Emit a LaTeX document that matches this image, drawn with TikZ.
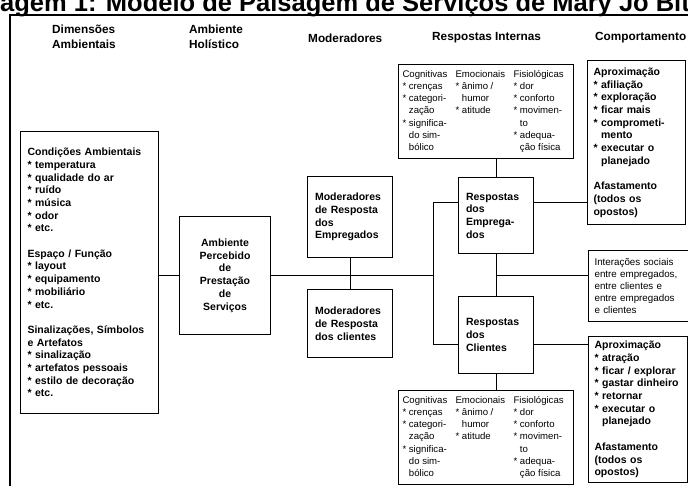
\documentclass[tikz,border=0pt]{standalone}
\usepackage{fontspec}
\setmainfont{Liberation Sans}
\usetikzlibrary{positioning}

% asterisco de item e recuo de continuacao
\newcommand{\ax}{{*}\ }
\newcommand{\rc}{\hphantom{*}\ }

% as tres colunas de respostas internas (repetidas em cima e em baixo)
\newcommand{\respint}{%
\begin{tabular}{@{}p{53pt}@{}p{58pt}@{}p{56pt}@{}}
Cognitivas & Emocionais & Fisiológicas\\
\ax crenças & \ax ânimo / & \ax dor\\
\ax categori- & \rc humor & \ax conforto\\
\rc zação & \ax atitude & \ax movimen-\\
\ax significa- & & \rc to\\
\rc do sim- & & \ax adequa-\\
\rc bólico & & \rc ção física
\end{tabular}}

\tikzset{
  caixa/.style={draw, line width=1.1pt, anchor=north west, inner sep=0pt},
  negrito/.style={font=\fontsize{10.5}{12.7}\selectfont\bfseries},
  fino/.style={font=\fontsize{9.6}{12.2}\selectfont},
  titulo/.style={font=\fontsize{11.8}{14.5}\selectfont\bfseries, align=left, anchor=west, inner sep=0pt},
  liga/.style={line width=1pt}
}

\begin{document}
\begin{tikzpicture}[x=1pt,y=-1pt]
    \clip (0,0) rectangle (688,486);
    \fill[white] (0,0) rectangle (688,486);

    % legenda cortada no topo
    \node[anchor=base west, inner sep=0pt, font=\fontsize{25.5}{25.5}\selectfont\bfseries] (legenda) at (0,12) {agem 1: Modelo de Paisagem de Serviços de Mary Jo Bitner};

    % moldura
    \draw[line width=2pt] (10,495) |- (700,15);

    % cabecalhos
    \node[titulo] (hdim) at (52,37) {Dimensões\\Ambientais};
    \node[titulo] (hamb) at (189,37) {Ambiente\\Holístico};
    \node[titulo] (hmod) at (308,38) {Moderadores};
    \node[titulo] (hresp) at (432,38) {Respostas Internas};
    \node[titulo] (hcomp) at (595,38) {Comportamento};

    % dimensoes ambientais
    \node[caixa, negrito, minimum width=138, minimum height=282, text width=124, align=left] (dim) at (20,131)
        {Condições Ambientais\\
         \ax temperatura\\
         \ax qualidade do ar\\
         \ax ruído\\
         \ax música\\
         \ax odor\\
         \ax etc.\\[12.7pt]
         Espaço / Função\\
         \ax layout\\
         \ax equipamento\\
         \ax mobiliário\\
         \ax etc.\\[12.7pt]
         Sinalizações, Símbolos\\
         e Artefatos\\
         \ax sinalização\\
         \ax artefatos pessoais\\
         \ax estilo de decoração\\
         \ax etc.};

    % ambiente holistico
    \node[caixa, negrito, minimum width=91, minimum height=118, align=center] (perc) at (179,216)
        {Ambiente\\Percebido\\de\\Prestação\\de\\Serviços};

    % moderadores
    \node[caixa, negrito, minimum width=85, minimum height=81, text width=70, align=left] (modE) at (307,176)
        {Moderadores\\de Resposta\\dos\\Empregados};
    \node[caixa, negrito, minimum width=85, minimum height=68, text width=70, align=left] (modC) at (307,289)
        {Moderadores\\de Resposta\\dos clientes};

    % respostas internas
    \node[caixa, fino, minimum width=175, minimum height=94] (cogE) at (398,64) {\respint};
    \node[caixa, negrito, minimum width=75, minimum height=76, text width=60, align=left] (respE) at (458,177)
        {Respostas\\dos\\Emprega-\\dos};
    \node[caixa, negrito, minimum width=75, minimum height=77, text width=60, align=left] (respC) at (458,296)
        {Respostas\\dos\\Clientes};
    \node[caixa, fino, minimum width=175, minimum height=94] (cogC) at (398,390) {\respint};

    % comportamento
    \node[caixa, negrito, minimum width=98, minimum height=164, text width=86, align=left] (compE) at (587,60)
        {Aproximação\\
         \ax afiliação\\
         \ax exploração\\
         \ax ficar mais\\
         \ax comprometi-\\
         \rc mento\\
         \ax executar o\\
         \rc planejado\\[12.7pt]
         Afastamento\\
         (todos os\\
         opostos)};
    \node[caixa, fino, font=\fontsize{9.8}{12}\selectfont, minimum width=100, minimum height=71, text width=88, align=left] (inter) at (588,250)
        {Interações sociais\\
         entre empregados,\\
         entre clientes e\\
         entre empregados\\
         e clientes};
    \node[caixa, negrito, minimum width=99, minimum height=146, text width=87, align=left] (compC) at (588,336)
        {Aproximação\\
         \ax atração\\
         \ax ficar / explorar\\
         \ax gastar dinheiro\\
         \ax retornar\\
         \ax executar o\\
         \rc planejado\\[12.7pt]
         Afastamento\\
         (todos os\\
         opostos)};

    % pontos do barramento
    \coordinate (busT) at (433,203);
    \coordinate (busB) at (433,344);
    \coordinate (jn) at (respE.south |- perc.east);

    % ligacoes
    \draw[liga] (dim.east |- perc.west) -- (perc.west);
    \draw[liga] (perc.east) -- (busT |- perc.east);
    \draw[liga] (modE.south) -- (modC.north);
    \draw[liga] (busT -| respE.west) -- (busT) -- (busB) -- (busB -| respC.west);
    \draw[liga] (respE.north) -- (respE.north |- cogE.south);
    \draw[liga] (respE.south) -- (respC.north);
    \draw[liga] (respC.south) -- (respC.south |- cogC.north);
    \draw[liga] (busT -| respE.east) -- (busT -| compE.west);
    \draw[liga] (jn) -- (jn -| inter.west);
    \draw[liga] (busB -| respC.east) -- (busB -| compC.west);
\end{tikzpicture}
\end{document}
